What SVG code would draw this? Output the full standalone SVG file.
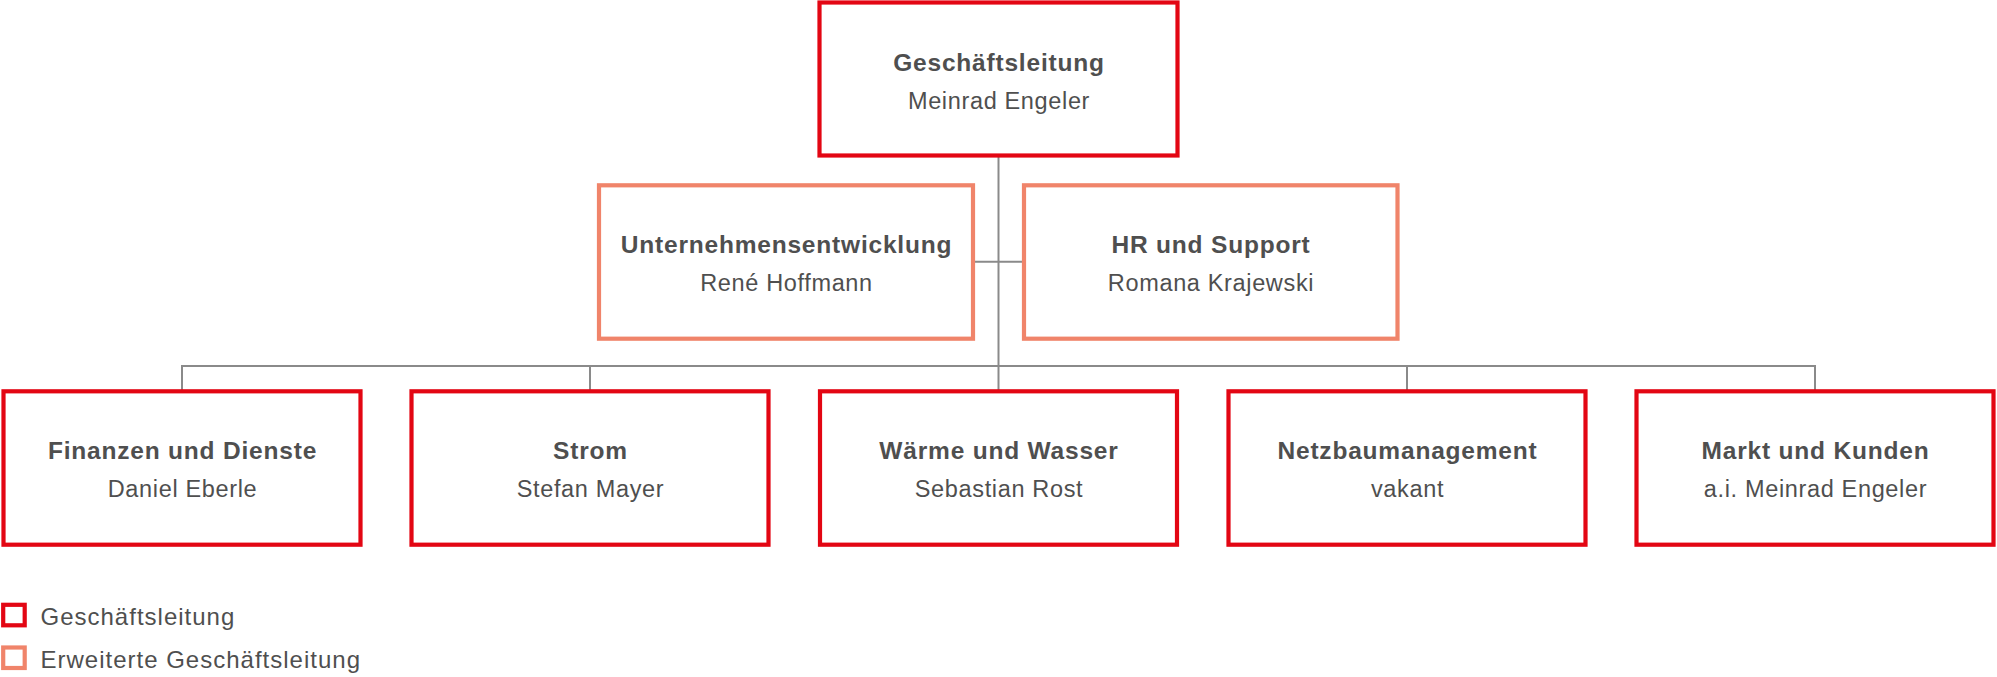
<svg xmlns="http://www.w3.org/2000/svg" width="1997" height="677" viewBox="0 0 1997 677">
<style>
.gl{fill:#fff;stroke:#E30613;stroke-width:4.2}
.egl{fill:#fff;stroke:#F0846A;stroke-width:4.2}
.t{font-family:"Liberation Sans",Arial,sans-serif;fill:#4f4f4f;text-anchor:middle}
.b{font-size:24.5px;font-weight:bold;letter-spacing:0.8px}
.r{font-size:23.5px;letter-spacing:0.65px}
.lg{font-family:"Liberation Sans",Arial,sans-serif;fill:#4f4f4f;font-size:24px;letter-spacing:1px}
.c{fill:none;stroke:#8a8a8a;stroke-width:2}
</style>
<rect width="1997" height="677" fill="#fff"/>
<g id="connectors">
<line class="c" x1="998.5" y1="157" x2="998.5" y2="366"/>
<line class="c" x1="975" y1="261.7" x2="1022" y2="261.7"/>
<line class="c" x1="181" y1="366" x2="1816" y2="366"/>
<line class="c" x1="182" y1="366" x2="182" y2="390"/>
<line class="c" x1="590" y1="366" x2="590" y2="390"/>
<line class="c" x1="998.5" y1="366" x2="998.5" y2="390"/>
<line class="c" x1="1407" y1="366" x2="1407" y2="390"/>
<line class="c" x1="1815" y1="366" x2="1815" y2="390"/>
</g>
<g id="gl">
<rect class="gl" x="819.5" y="2.5" width="358" height="153"/>
<text class="t b" x="999" y="70.5">Geschäftsleitung</text>
<text class="t r" x="999" y="108.5">Meinrad Engeler</text>
</g>
<g id="ue">
<rect class="egl" x="599" y="185.3" width="374" height="153.4"/>
<text class="t b" x="786.5" y="253.3">Unternehmensentwicklung</text>
<text class="t r" x="786.5" y="290.7">René Hoffmann</text>
</g>
<g id="hr">
<rect class="egl" x="1024" y="185.3" width="373.5" height="153.4"/>
<text class="t b" x="1211" y="253.3">HR und Support</text>
<text class="t r" x="1211" y="290.7">Romana Krajewski</text>
</g>
<g id="fin">
<rect class="gl" x="3.5" y="391.3" width="357" height="153.4"/>
<text class="t b" x="182.5" y="459.3">Finanzen und Dienste</text>
<text class="t r" x="182.5" y="497.3">Daniel Eberle</text>
</g>
<g id="strom">
<rect class="gl" x="411.5" y="391.3" width="357" height="153.4"/>
<text class="t b" x="590.5" y="459.3">Strom</text>
<text class="t r" x="590.5" y="497.3">Stefan Mayer</text>
</g>
<g id="ww">
<rect class="gl" x="820" y="391.3" width="357" height="153.4"/>
<text class="t b" x="999" y="459.3">Wärme und Wasser</text>
<text class="t r" x="999" y="497.3">Sebastian Rost</text>
</g>
<g id="nbm">
<rect class="gl" x="1228.5" y="391.3" width="357" height="153.4"/>
<text class="t b" x="1407.5" y="459.3">Netzbaumanagement</text>
<text class="t r" x="1407.5" y="497.3">vakant</text>
</g>
<g id="mk">
<rect class="gl" x="1636.5" y="391.3" width="357" height="153.4"/>
<text class="t b" x="1815.5" y="459.3">Markt und Kunden</text>
<text class="t r" x="1815.5" y="497.3">a.i. Meinrad Engeler</text>
</g>
<g id="legend">
<rect class="gl" x="3.2" y="604.8" width="21.5" height="20.5"/>
<text class="lg" x="40.5" y="624.5">Geschäftsleitung</text>
<rect class="egl" x="3.2" y="647.5" width="21.5" height="20.5"/>
<text class="lg" x="40.5" y="667.5">Erweiterte Geschäftsleitung</text>
</g>
</svg>
